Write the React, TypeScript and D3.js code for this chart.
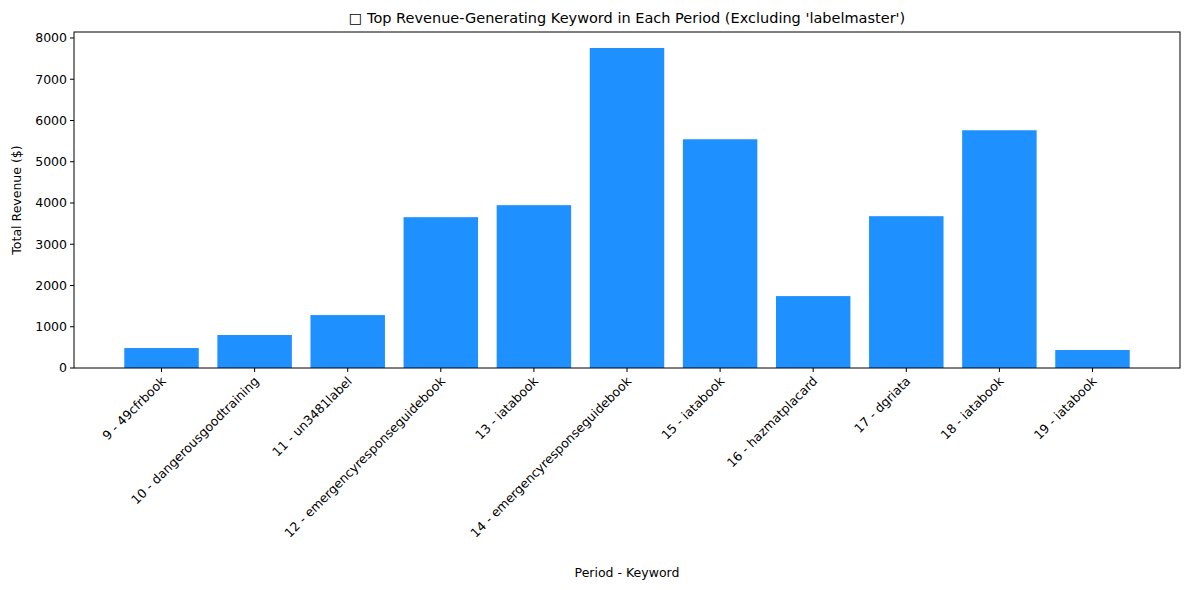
import React from "react";
import * as d3 from "d3";

const categories = ["9 - 49cfrbook","10 - dangerousgoodtraining","11 - un3481label","12 - emergencyresponseguidebook","13 - iatabook","14 - emergencyresponseguidebook","15 - iatabook","16 - hazmatplacard","17 - dgriata","18 - iatabook","19 - iatabook"];
const revenue = [484, 800, 1283, 3656, 3947, 7757, 5545, 1743, 3680, 5763, 436];
const yTicks = [0,1000,2000,3000,4000,5000,6000,7000,8000];

export default function App() {
  const W = 1189, H = 590;
  const L = 74, R = 1180, T = 32, B = 368;
  const x = d3.scaleLinear().domain([-0.94, categories.length - 1 + 0.94]).range([L, R]);
  const y = d3.scaleLinear().domain([0, 8145]).range([B, T]);
  const bw = x(0.8) - x(0);
  const font = "DejaVu Sans, sans-serif";
  return (
    <svg width={W} height={H} style={{position:"absolute",left:0,top:0,background:"#fff"}} fontFamily={font}>
      <text x={(L+R)/2} y={23} textAnchor="middle" fontSize={14.5}>□ Top Revenue-Generating Keyword in Each Period (Excluding 'labelmaster')</text>
      {revenue.map((v,i)=>(
        <rect key={i} x={x(i)-bw/2} y={y(v)} width={bw} height={B-y(v)} fill="#1e90ff"/>
      ))}
      <rect x={L} y={T} width={R-L} height={B-T} fill="none" stroke="#000" strokeWidth={1}/>
      {yTicks.map(t=>(
        <g key={t}>
          <line x1={L-4} x2={L} y1={y(t)} y2={y(t)} stroke="#000"/>
          <text x={L-7} y={y(t)} dy="0.35em" textAnchor="end" fontSize={12.5}>{t}</text>
        </g>
      ))}
      {categories.map((c,i)=>(
        <g key={c+i}>
          <line x1={x(i)} x2={x(i)} y1={B} y2={B+4} stroke="#000"/>
          <text transform={`translate(${x(i)+5},${B+14}) rotate(-45)`} textAnchor="end" fontSize={12.5}>{c}</text>
        </g>
      ))}
      <text x={(L+R)/2} y={577} textAnchor="middle" fontSize={12.5}>Period - Keyword</text>
      <text transform={`translate(21,${(T+B)/2}) rotate(-90)`} textAnchor="middle" fontSize={12.5}>Total Revenue ($)</text>
    </svg>
  );
}
